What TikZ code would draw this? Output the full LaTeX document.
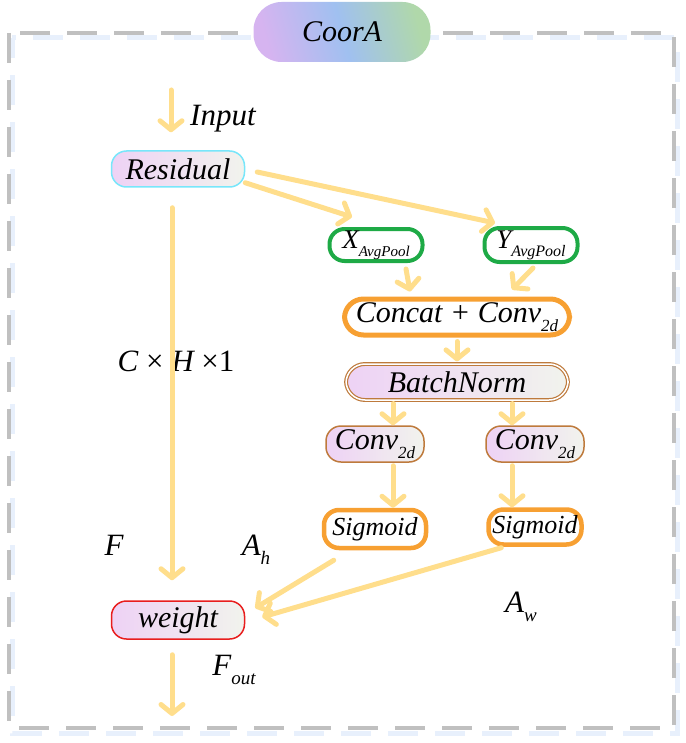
\documentclass[tikz,border=0pt]{standalone}
\usepackage{fontspec}
\setmainfont{Liberation Serif}
\usetikzlibrary{arrows.meta, positioning}
\definecolor{lineYellow}{RGB}{255,222,140}
\definecolor{frameGrey}{RGB}{192,192,192}
\definecolor{shadowBlue}{RGB}{232,240,252}
\definecolor{fillPink}{RGB}{238,210,245}
\definecolor{fillGrey}{RGB}{241,243,237}
\definecolor{titlePurple}{RGB}{214,180,240}
\definecolor{titleBlue}{RGB}{160,192,240}
\definecolor{titleGreen}{RGB}{176,216,170}
\definecolor{edgeCyan}{RGB}{120,230,250}
\definecolor{edgeGreen}{RGB}{30,170,70}
\definecolor{edgeOrange}{RGB}{247,160,50}
\definecolor{edgeBrown}{RGB}{190,122,60}
\definecolor{edgeRed}{RGB}{232,30,30}
\newcommand{\lowsub}[2][17]{\raisebox{-0.3em}{\fontsize{#1}{#1}\selectfont #2}}
\tikzstyle{base} = [rectangle, rounded corners=15pt, align=center, inner sep=0pt, font=\fontsize{30}{34}\selectfont\itshape]
\tikzstyle{titlebox} = [base, rounded corners=28pt, minimum width=177pt, minimum height=60pt, left color=titlePurple, right color=titleGreen, middle color=titleBlue, shading angle=105]
\tikzstyle{residualbox} = [base, minimum width=133pt, minimum height=36pt, left color=fillPink, right color=fillGrey, draw=edgeCyan, line width=1.5pt]
\tikzstyle{poolbox} = [base, minimum width=93pt, minimum height=32pt, draw=edgeGreen, fill=white, line width=4pt, font=\fontsize{27}{30}\selectfont\itshape]
\tikzstyle{concatbox} = [base, rounded corners=19pt, minimum width=225pt, minimum height=36pt, draw=edgeOrange, fill=white, line width=5pt]
\tikzstyle{normbox} = [base, rounded corners=19pt, minimum width=222pt, minimum height=36pt, left color=fillPink, right color=fillGrey, draw=edgeBrown, double=white, double distance=1.5pt, line width=1.2pt]
\tikzstyle{convbox} = [base, minimum width=98pt, minimum height=36pt, left color=fillPink, right color=fillGrey, draw=edgeBrown, line width=1.5pt]
\tikzstyle{sigbox} = [base, minimum width=102pt, minimum height=38pt, draw=edgeOrange, fill=white, line width=4.5pt, font=\fontsize{26}{30}\selectfont\itshape]
\tikzstyle{weightbox} = [base, minimum width=133pt, minimum height=38pt, left color=fillPink, right color=fillGrey, draw=edgeRed, line width=1.5pt]
\tikzstyle{annot} = [inner sep=0pt, font=\fontsize{31}{36}\selectfont\itshape]
\tikzstyle{frame} = [draw=frameGrey, line width=4pt, dash pattern=on 30pt off 17pt]
\tikzstyle{frameshadow} = [draw=shadowBlue, line width=5pt, dash pattern=on 30pt off 17pt, dash phase=10pt]
\tikzstyle{arrow} = [line width=5pt, draw=lineYellow, line cap=round, -{Straight Barb[round,length=9pt,width=22pt]}]

\begin{document}
\begin{tikzpicture}[x=1pt, y=1pt, node distance=65pt]
\useasboundingbox (0,0) rectangle (685,-743);

% Frame
\draw [frameshadow] (12,-38) rectangle (677,-733);
\draw [frame] (9,-33) rectangle (674,-728);

% Title
\node (coorA) [titlebox] at (342,-32) {CoorA};

% Input and Residual
\coordinate (inputTop) at (171,-90);
\node (inputLbl) [annot, anchor=west] at (190,-119) {Input};
\node (residual) [residualbox] at (178,-169) {Residual};

% Pooling along the two axes
\node (xPool) [poolbox, below of=residual, xshift=198pt, yshift=-11pt] {X\lowsub[15]{AvgPool}};
\node (yPool) [poolbox, right of=xPool, xshift=90pt, minimum height=34pt] {Y\lowsub[16]{AvgPool}};

% Concat and BatchNorm
\node (concat) [concatbox, below of=xPool, xshift=81pt, yshift=-7pt] {Concat + Conv\lowsub{2d}};
\node (batchNorm) [normbox, below of=concat] {BatchNorm};

% Convolutions
\node (convH) [convbox, below of=batchNorm, xshift=-82pt, yshift=3pt] {Conv\lowsub{2d}};
\node (convW) [convbox, right of=convH, xshift=95pt] {Conv\lowsub{2d}};

% Sigmoids
\node (sigH) [sigbox, below of=convH, yshift=-20pt] {Sigmoid};
\node (sigW) [sigbox, below of=convW, yshift=-18pt, minimum width=93pt, minimum height=35pt] {Sigmoid};

% Weight and output
\node (weight) [weightbox, below of=residual, yshift=-386pt] {weight};
\coordinate (outEnd) at (172,-716);

% Labels
\node (shapeLbl) [annot] at (176,-361) {C {\upshape×} H {\upshape×1}};
\node (fLbl) [annot] at (114,-545) {F};
\node (ahLbl) [annot] at (256,-550) {A\lowsub[19]{h}};
\node (awLbl) [annot] at (521,-607) {A\lowsub[19]{w}};
\node (foutLbl) [annot] at (234,-670) {F\lowsub[19]{out}};

% Arrows
\draw [arrow] (inputTop) -- ([shift={(-7pt,18pt)}]residual.north);
\draw [arrow] ([yshift=5pt]residual.south east) -- ([shift={(-24pt,10pt)}]xPool.north);
\draw [arrow] ([shift={(12pt,-3pt)}]residual.east) -- ([shift={(-36pt,3pt)}]yPool.north);
\draw [arrow] ([shift={(-6pt,-20pt)}]residual.south) -- ([shift={(-6pt,20pt)}]weight.north);
\draw [arrow] ([shift={(30pt,-6pt)}]xPool.south) -- ([shift={(-47pt,5pt)}]concat.north);
\draw [arrow] ([shift={(2pt,-4pt)}]yPool.south) -- ([shift={(55pt,7pt)}]concat.north);
\draw [arrow] ([yshift=-4pt]concat.south) -- ([yshift=2pt]batchNorm.north);
\draw [arrow] ([shift={(-64pt,-3pt)}]batchNorm.south) -- ([xshift=18pt]convH.north);
\draw [arrow] ([shift={(55pt,-3pt)}]batchNorm.south) -- ([xshift=-23pt]convW.north);
\draw [arrow] ([shift={(18pt,-3pt)}]convH.south) -- ([xshift=18pt]sigH.north);
\draw [arrow] ([shift={(-23pt,-3pt)}]convW.south) -- ([xshift=-23pt]sigW.north);
\draw [arrow] ([shift={(12pt,-10pt)}]sigH.south west) -- ([shift={(10pt,12pt)}]weight.east);
\draw [arrow] ([shift={(15pt,-1pt)}]sigW.south west) -- ([shift={(17pt,3pt)}]weight.east);
\draw [arrow] ([shift={(-6pt,-15pt)}]weight.south) -- (outEnd);

\end{tikzpicture}
\end{document}
